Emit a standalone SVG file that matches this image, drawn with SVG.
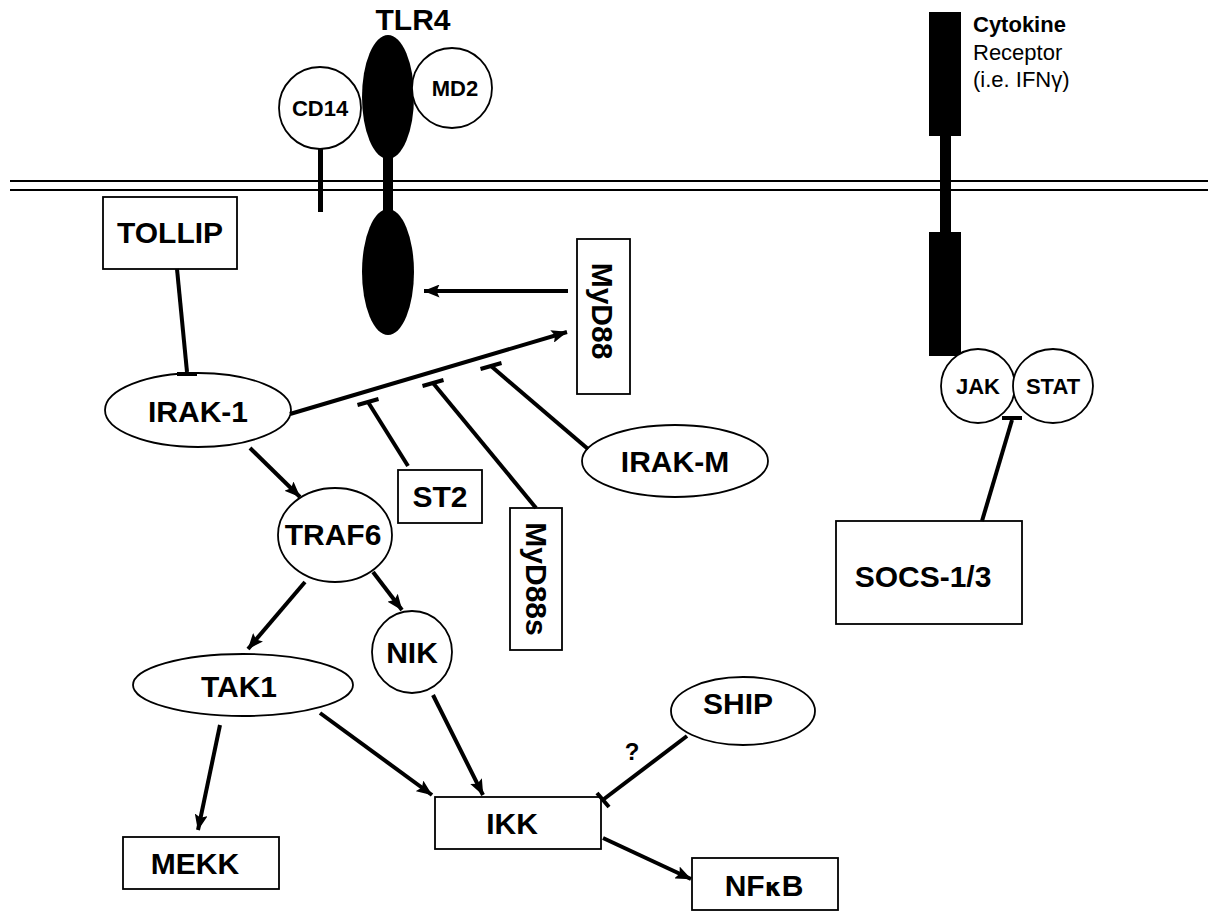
<svg xmlns="http://www.w3.org/2000/svg" width="1208" height="911" viewBox="0 0 1208 911">
<defs>
<marker id="arr" viewBox="0 0 16 13" refX="15.5" refY="6.5" markerWidth="16" markerHeight="13" markerUnits="userSpaceOnUse" orient="auto">
<path d="M0,0 L16,6.5 L0,13 L3,6.5 z" fill="#000"/>
</marker>
</defs>
<style>
.n{fill:#fff;stroke:#000;stroke-width:1.8}
.t{font-family:"Liberation Sans",Arial,sans-serif;font-weight:bold;font-size:30px;text-anchor:middle;fill:#000}
.s{font-size:22px}
.c{stroke:#000;stroke-width:4;fill:none}
.a{marker-end:url(#arr)}
.b{fill:#000}
.r{font-family:"Liberation Sans",Arial,sans-serif;font-size:22px;fill:#000}
</style>
<rect width="1208" height="911" fill="#fff"/>
<g id="membrane">
<line x1="10" y1="181" x2="1208" y2="181" stroke="#000" stroke-width="2"/>
<line x1="10" y1="190" x2="1208" y2="190" stroke="#000" stroke-width="2"/>
</g>
<g id="CD14">
<rect x="318" y="148" width="5" height="64" class="b"/>
<circle cx="320" cy="108" r="41" class="n"/>
<text x="320" y="116" class="t s">CD14</text>
</g>
<g id="TLR4">
<text x="413" y="30" class="t">TLR4</text>
<rect x="383" y="150" width="10" height="70" class="b"/>
<ellipse cx="388" cy="97" rx="26" ry="62" class="b"/>
<ellipse cx="388" cy="272" rx="26" ry="63" class="b"/>
</g>
<g id="MD2">
<circle cx="452" cy="88" r="40" class="n"/>
<text x="455" y="96" class="t s">MD2</text>
</g>
<g id="cytokine-receptor">
<rect x="929" y="12" width="32" height="124" class="b"/>
<rect x="940" y="135" width="11" height="98" class="b"/>
<rect x="929" y="232" width="32" height="124" class="b"/>
<text x="973" y="32" class="r" style="font-weight:bold">Cytokine</text>
<text x="973" y="60" class="r">Receptor</text>
<text x="973" y="87" class="r">(i.e. IFNγ)</text>
</g>
<g id="JAK">
<circle cx="978" cy="386" r="37" class="n"/>
<text x="978" y="394" class="t s">JAK</text>
</g>
<g id="STAT">
<ellipse cx="1053" cy="386" rx="40" ry="37" class="n"/>
<text x="1053" y="394" class="t s">STAT</text>
</g>
<g id="TOLLIP">
<rect x="103" y="197" width="134" height="72" class="n"/>
<text x="170" y="243" class="t">TOLLIP</text>
</g>
<g id="IRAK-1">
<ellipse cx="198" cy="410" rx="93" ry="37" class="n"/>
<text x="198" y="422" class="t">IRAK-1</text>
</g>
<g id="MyD88">
<rect x="577" y="239" width="53" height="155" class="n"/>
<text transform="translate(592,311) rotate(90)" class="t">MyD88</text>
</g>
<g id="ST2">
<rect x="398" y="470" width="84" height="53" class="n"/>
<text x="440" y="507" class="t">ST2</text>
</g>
<g id="MyD88s">
<rect x="510" y="508" width="52" height="142" class="n"/>
<text transform="translate(526,579) rotate(90)" class="t">MyD88s</text>
</g>
<g id="IRAK-M">
<ellipse cx="675" cy="461" rx="93" ry="36" class="n"/>
<text x="675" y="472" class="t">IRAK-M</text>
</g>
<g id="TRAF6">
<ellipse cx="335" cy="535" rx="57" ry="47" class="n"/>
<text x="333" y="545" class="t">TRAF6</text>
</g>
<g id="NIK">
<ellipse cx="412" cy="652" rx="40" ry="41" class="n"/>
<text x="412" y="663" class="t">NIK</text>
</g>
<g id="TAK1">
<ellipse cx="243" cy="685" rx="110" ry="31" class="n"/>
<text x="239" y="697" class="t">TAK1</text>
</g>
<g id="SHIP">
<ellipse cx="743" cy="711" rx="72" ry="34" class="n"/>
<text x="738" y="714" class="t">SHIP</text>
</g>
<g id="SOCS">
<rect x="836" y="521" width="186" height="103" class="n"/>
<text x="923" y="587" class="t">SOCS-1/3</text>
</g>
<g id="MEKK">
<rect x="123" y="837" width="156" height="52" class="n"/>
<text x="195" y="874" class="t">MEKK</text>
</g>
<g id="IKK">
<rect x="435" y="797" width="166" height="52" class="n"/>
<text x="512" y="834" class="t">IKK</text>
</g>
<g id="NFkB">
<rect x="692" y="858" width="146" height="52" class="n"/>
<text x="764" y="896" class="t">NF<tspan style="font-family:'DejaVu Sans',sans-serif;font-size:24px">κ</tspan>B</text>
</g>
<g id="connectors">
<line x1="177" y1="269" x2="187" y2="372" class="c"/>
<line x1="177" y1="374" x2="197" y2="374" class="c"/>
<line x1="568" y1="291" x2="424" y2="291" class="c a"/>
<line x1="290" y1="414" x2="567" y2="332" class="c a"/>
<line x1="408" y1="466" x2="368" y2="402" class="c"/>
<line x1="357.5" y1="405" x2="378.5" y2="399" class="c"/>
<line x1="536" y1="508" x2="433" y2="383" class="c"/>
<line x1="422.5" y1="386" x2="443.5" y2="380" class="c"/>
<line x1="588" y1="449" x2="491" y2="366" class="c"/>
<line x1="480.5" y1="369" x2="501.5" y2="363" class="c"/>
<line x1="250" y1="448" x2="300" y2="497" class="c a"/>
<line x1="373" y1="572" x2="402" y2="610" class="c a"/>
<line x1="305" y1="582" x2="248" y2="649" class="c a"/>
<line x1="220" y1="725" x2="198" y2="830" class="c a"/>
<line x1="320" y1="713" x2="432" y2="795" class="c a"/>
<line x1="433" y1="695" x2="483" y2="795" class="c a"/>
<line x1="603" y1="838" x2="691" y2="879" class="c a"/>
<line x1="687" y1="736" x2="604" y2="799" class="c"/>
<line x1="597" y1="793" x2="609" y2="807" class="c"/>
<line x1="982" y1="521" x2="1012" y2="420" class="c"/>
<line x1="1002" y1="418" x2="1022" y2="418" class="c"/>
</g>
<text x="632" y="760" class="t" style="font-size:24px">?</text>
</svg>
